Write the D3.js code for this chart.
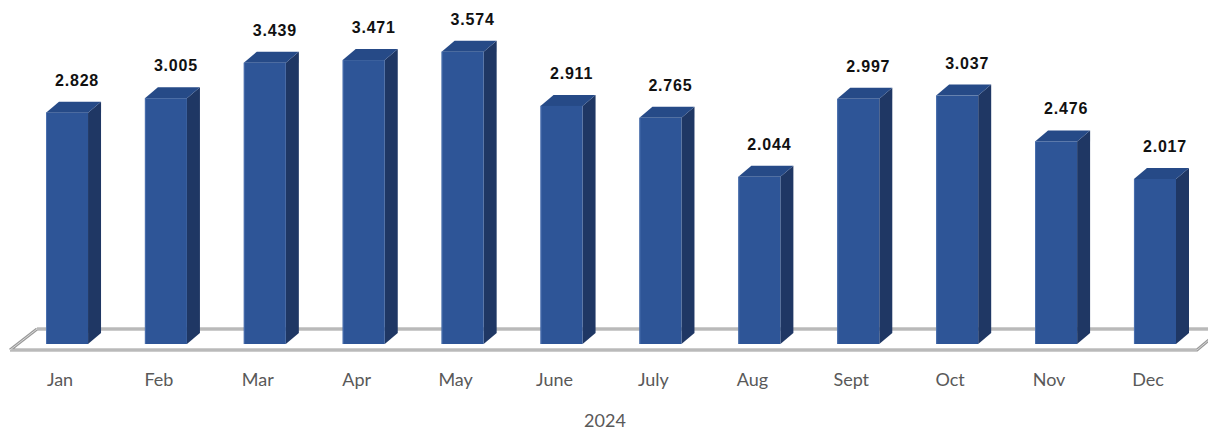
<!DOCTYPE html>
<html>
<head>
<meta charset="utf-8">
<script src="https://cdn.jsdelivr.net/npm/d3@7"></script>
<style>
  html, body { margin: 0; padding: 0; background: #fff; }
  svg { display: block; }
</style>
</head>
<body>
<svg id="chart" width="1208" height="430"></svg>
<script>
const months = ["Jan","Feb","Mar","Apr","May","June","July","Aug","Sept","Oct","Nov","Dec"];
const values = [2.828, 3.005, 3.439, 3.471, 3.574, 2.911, 2.765, 2.044, 2.997, 3.037, 2.476, 2.017];
const xAxisTitle = "2024";

const svg = d3.select("#chart");
const baseY = 344;
const depthX = 13, depthY = 11;

const x = d3.scaleBand().domain(months).range([46, 1176]).paddingInner(0.575).paddingOuter(0);
const y = d3.scaleLinear().domain([0, 4]).range([baseY, baseY - 4 * 81.8]);
const bw = x.bandwidth();

// floor
const floor = svg.append("g");
const fl = [[10, 350], [1197, 350], [1208, 341], [1208, 329], [37, 329]];
floor.append("path")
  .attr("d", "M10,350 L1197,350 L1210,339 M37,329 L1210,329 M10,350 L37,329")
  .attr("fill", "none").attr("stroke", "#9a9a9a").attr("stroke-width", 3);
floor.append("path")
  .attr("d", "M10,350 L1197,350 L1210,339 M37,329 L1210,329 M10,350 L37,329")
  .attr("fill", "none").attr("stroke", "#d9d9d9").attr("stroke-width", 1);

const bars = svg.append("g").selectAll("g").data(months).join("g");

// side
bars.append("path")
  .attr("d", (m, i) => {
    const x1 = x(m) + bw, yt = y(values[i]);
    return `M${x1},${baseY} L${x1},${yt} L${x1 + depthX},${yt - depthY} L${x1 + depthX},${baseY - depthY} Z`;
  })
  .attr("fill", "#1f3764");
// top
bars.append("path")
  .attr("d", (m, i) => {
    const x0 = x(m), yt = y(values[i]);
    return `M${x0},${yt} L${x0 + depthX},${yt - depthY} L${x0 + bw + depthX},${yt - depthY} L${x0 + bw},${yt} Z`;
  })
  .attr("fill", "#264a87");
// front
bars.append("rect")
  .attr("x", m => x(m))
  .attr("y", (m, i) => y(values[i]))
  .attr("width", bw)
  .attr("height", (m, i) => baseY - y(values[i]))
  .attr("fill", "#2e5597");
// front left highlight
bars.append("line")
  .attr("x1", m => x(m) + 0.5).attr("x2", m => x(m) + 0.5)
  .attr("y1", (m, i) => y(values[i])).attr("y2", baseY)
  .attr("stroke", "#4a6fae").attr("stroke-width", 1);

// value labels
svg.append("g").selectAll("text").data(months).join("text")
  .attr("x", m => x(m) + bw / 2 + 10)
  .attr("y", (m, i) => y(values[i]) - 27)
  .attr("text-anchor", "middle")
  .attr("font-family", "'Liberation Sans', Arial, sans-serif")
  .attr("font-weight", "bold")
  .attr("font-size", 16)
  .attr("letter-spacing", 0.8)
  .attr("fill", "#111")
  .text((m, i) => values[i].toFixed(3));

// category labels
svg.append("g").selectAll("text").data(months).join("text")
  .attr("x", m => x(m) + bw / 2 - 7)
  .attr("y", 386)
  .attr("text-anchor", "middle")
  .attr("font-family", "Lato, 'Open Sans', sans-serif")
  .attr("font-size", 18)
  .attr("fill", "#595959")
  .text(m => m);

svg.append("text")
  .attr("x", 605).attr("y", 427)
  .attr("text-anchor", "middle")
  .attr("font-family", "Lato, 'Open Sans', sans-serif")
  .attr("font-size", 18)
  .attr("fill", "#595959")
  .text(xAxisTitle);
</script>
</body>
</html>
